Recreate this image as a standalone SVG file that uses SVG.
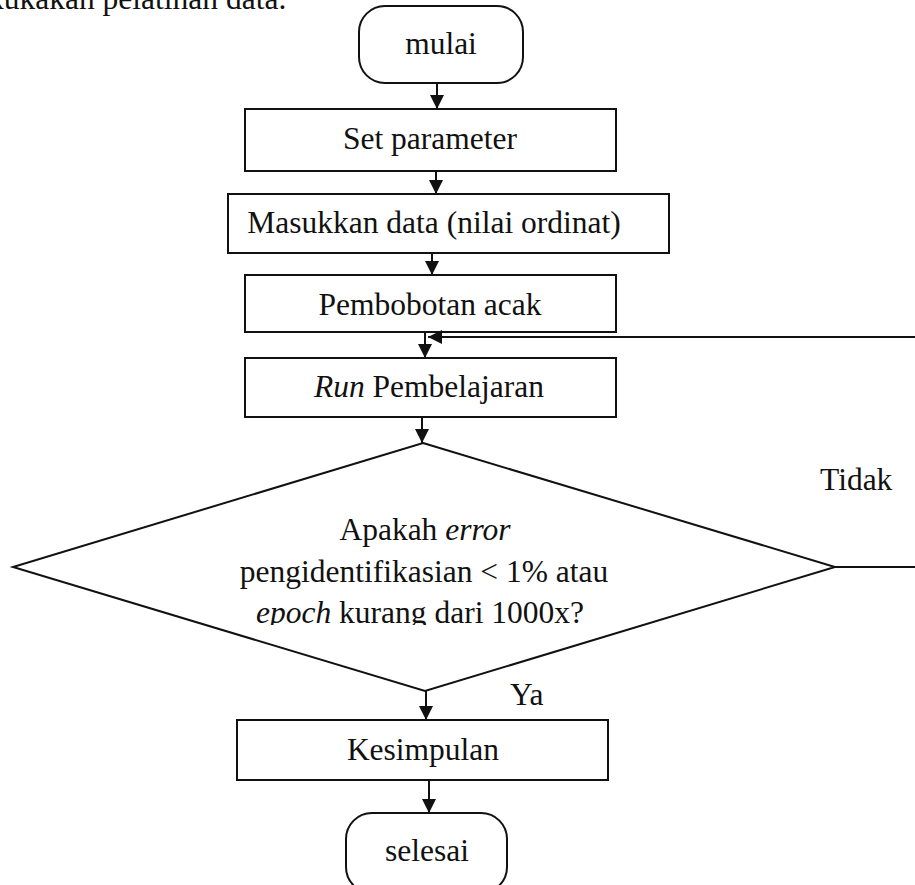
<svg xmlns="http://www.w3.org/2000/svg" width="915" height="885" viewBox="0 0 915 885">
<defs>
<style>
.box{fill:none;stroke:#111;stroke-width:2}
.t{font-family:"Liberation Serif","Times New Roman",serif;font-size:31.5px;fill:#111}
.c{text-anchor:middle}
.i{font-style:italic}
.conn{fill:none;stroke:#111;stroke-width:2}
</style>
<marker id="ah" viewBox="0 0 10 10" refX="10" refY="5" markerUnits="userSpaceOnUse" markerWidth="14" markerHeight="14" orient="auto">
<path d="M0,0 L10,5 L0,10 z" fill="#111"/>
</marker>
<clipPath id="dclip"><rect x="0" y="440" width="915" height="185"/></clipPath>
</defs>
<rect width="915" height="885" fill="#fff"/>
<text class="t" x="-12" y="9">kukakan pelatihan data.</text>

<g id="connectors">
<path class="conn" d="M437,83 V109" marker-end="url(#ah)"/>
<path class="conn" d="M436,171 V194" marker-end="url(#ah)"/>
<path class="conn" d="M432,253 V275" marker-end="url(#ah)"/>
<path class="conn" d="M425,332 V358" marker-end="url(#ah)"/>
<path class="conn" d="M422,417 V443" marker-end="url(#ah)"/>
<path class="conn" d="M426,691 V720" marker-end="url(#ah)"/>
<path class="conn" d="M429,780 V813" marker-end="url(#ah)"/>
<path class="conn" d="M835,567 H935 V337 H428" stroke-width="2.5" marker-end="url(#ah)"/>
<text class="t" x="820" y="490">Tidak</text>
<text class="t" x="510" y="705">Ya</text>
</g>

<g id="mulai">
<rect class="box" x="359" y="6" width="164" height="77" rx="26" ry="26"/>
<text class="t c" x="441" y="54">mulai</text>
</g>
<g id="set-parameter">
<rect class="box" x="245" y="109" width="371" height="62"/>
<text class="t c" x="430" y="149">Set parameter</text>
</g>
<g id="masukkan-data">
<rect class="box" x="228" y="194" width="441" height="59"/>
<text class="t c" x="434" y="233">Masukkan data (nilai ordinat)</text>
</g>
<g id="pembobotan">
<rect class="box" x="245" y="275" width="371" height="57"/>
<text class="t c" x="430" y="315">Pembobotan acak</text>
</g>
<g id="run">
<rect class="box" x="245" y="358" width="371" height="59"/>
<text class="t c" x="429" y="397"><tspan class="i">Run</tspan> Pembelajaran</text>
</g>
<g id="decision">
<polygon class="box" points="423,443 835,567 425,691 13,567"/>
<g clip-path="url(#dclip)">
<text class="t c" x="425" y="540">Apakah <tspan class="i">error</tspan></text>
<text class="t c" x="424" y="582">pengidentifikasian &lt; 1% atau</text>
<text class="t c" x="420" y="623"><tspan class="i">epoch</tspan> kurang dari 1000x?</text>
</g>
</g>
<g id="kesimpulan">
<rect class="box" x="237" y="720" width="371" height="60"/>
<text class="t c" x="423" y="760">Kesimpulan</text>
</g>
<g id="selesai">
<rect class="box" x="346" y="813" width="161" height="80" rx="26" ry="26"/>
<text class="t c" x="427" y="861">selesai</text>
</g>
</svg>
